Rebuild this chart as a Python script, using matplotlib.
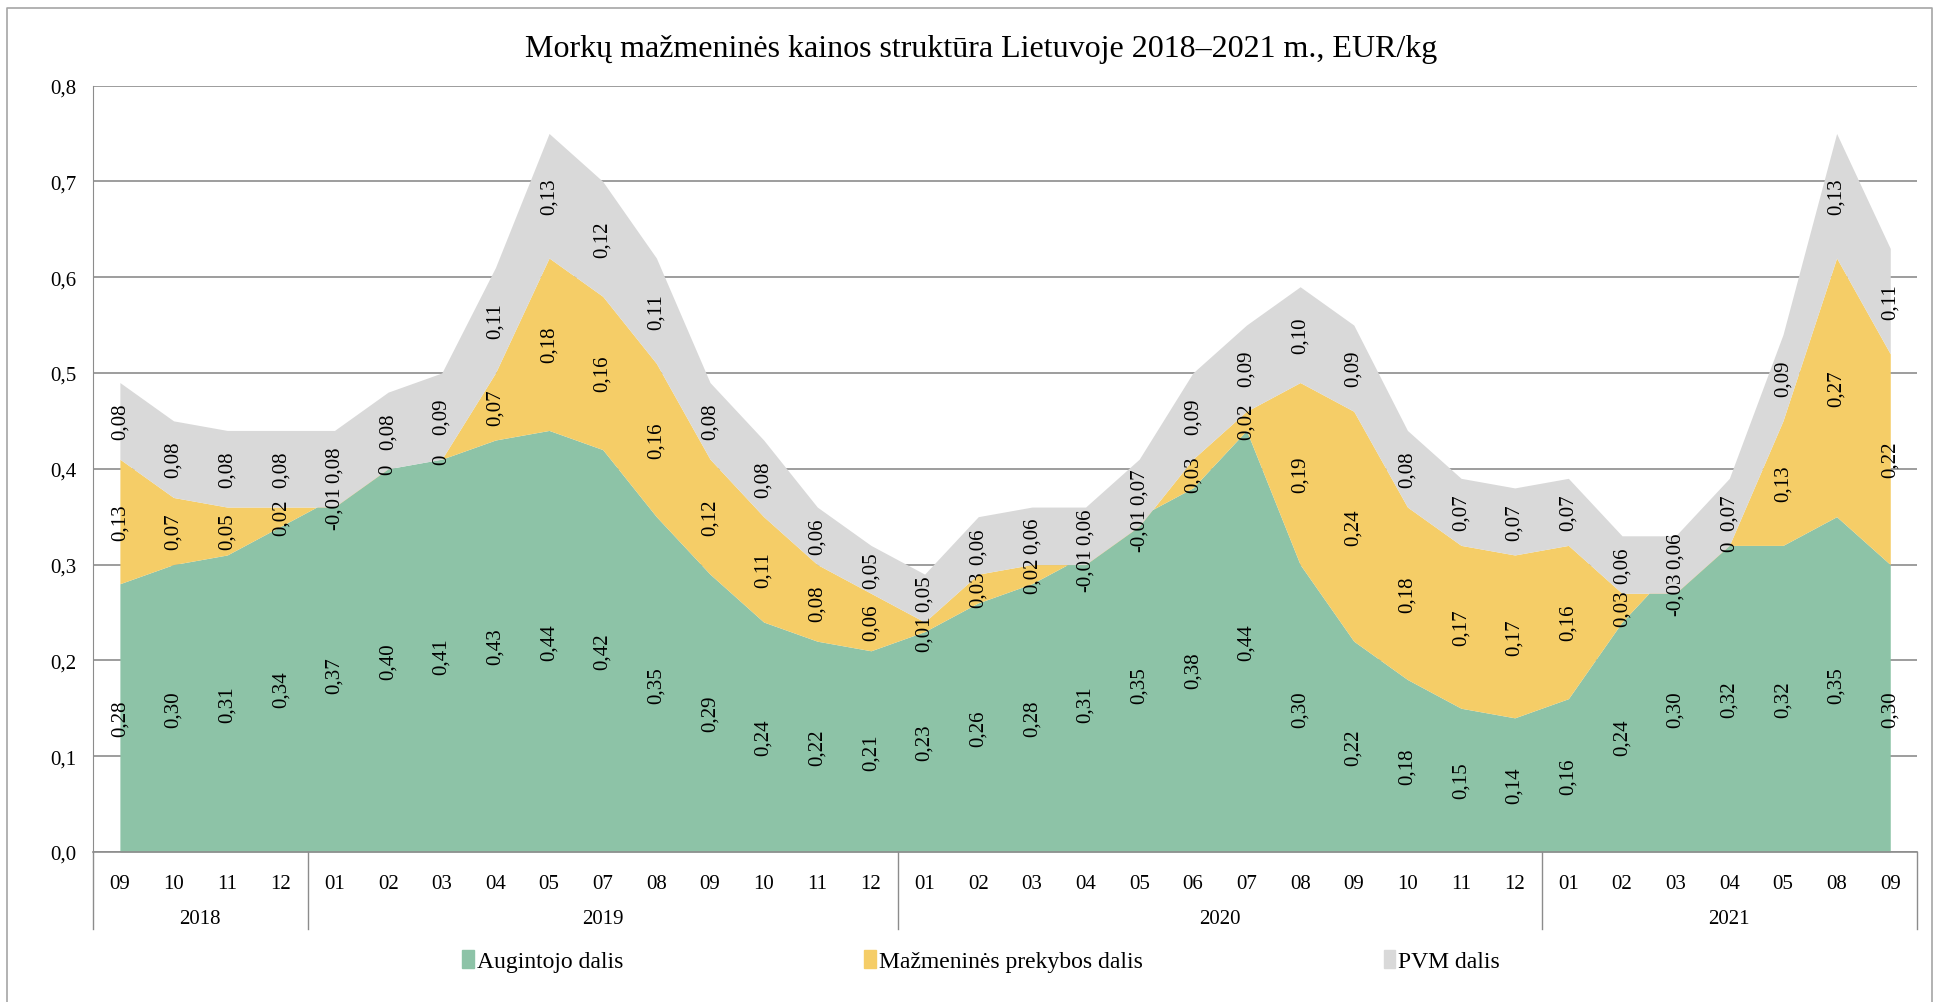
import matplotlib.pyplot as plt
import matplotlib.transforms as mtransforms
from matplotlib.lines import Line2D
from matplotlib.patches import Patch
import numpy as np

# data
months = ["09", "10", "11", "12",
          "01", "02", "03", "04", "05", "07", "08", "09", "10", "11", "12",
          "01", "02", "03", "04", "05", "06", "07", "08", "09", "10", "11", "12",
          "01", "02", "03", "04", "05", "08", "09"]
years = ["2018", "2019", "2020", "2021"]
year_counts = [4, 11, 12, 7]

augintojo = [0.28, 0.30, 0.31, 0.34,
             0.37, 0.40, 0.41, 0.43, 0.44, 0.42, 0.35, 0.29, 0.24, 0.22, 0.21,
             0.23, 0.26, 0.28, 0.31, 0.35, 0.38, 0.44, 0.30, 0.22, 0.18, 0.15, 0.14,
             0.16, 0.24, 0.30, 0.32, 0.32, 0.35, 0.30]
prekybos = [0.13, 0.07, 0.05, 0.02,
            -0.01, 0.00, 0.00, 0.07, 0.18, 0.16, 0.16, 0.12, 0.11, 0.08, 0.06,
            0.01, 0.03, 0.02, -0.01, -0.01, 0.03, 0.02, 0.19, 0.24, 0.18, 0.17, 0.17,
            0.16, 0.03, -0.03, 0.00, 0.13, 0.27, 0.22]
pvm = [0.08, 0.08, 0.08, 0.08,
       0.08, 0.08, 0.09, 0.11, 0.13, 0.12, 0.11, 0.08, 0.08, 0.06, 0.05,
       0.05, 0.06, 0.06, 0.06, 0.07, 0.09, 0.09, 0.10, 0.09, 0.08, 0.07, 0.07,
       0.07, 0.06, 0.06, 0.07, 0.09, 0.13, 0.11]

series = [("Augintojo dalis", augintojo, "#8DC3A7"),
          ("Mažmeninės prekybos dalis", prekybos, "#F5CD67"),
          ("PVM dalis", pvm, "#D9D9D9")]

plt.rcParams['font.family'] = ['Liberation Serif', 'DejaVu Serif']

LABEL_FS = 15


def fmt(v):
    if abs(v) < 1e-9:
        return "0"
    return f"{v:.2f}".replace(".", ",")


def half_len(s):
    # rough text length of a rotated label, in data units
    em = LABEL_FS * 100 / 72
    w = sum(0.25 if c == "," else 0.33 if c == "-" else 0.5 for c in s) * em
    return w / 2 * 0.8 / 766


fig = plt.figure(figsize=(19.39, 10.03), dpi=100)
ax = fig.add_axes([0.048, 0.1496, 0.9407, 0.7641])

x = np.arange(len(months))
bottom = np.zeros(len(months))
label_cols = [[] for _ in months]
for name, vals, col in series:
    vals = np.array(vals)
    top = bottom + vals
    ax.fill_between(x, bottom, top, color=col, linewidth=0, zorder=2)
    for i, (b, t, v) in enumerate(zip(bottom, top, vals)):
        label_cols[i].append([(b + t) / 2, fmt(v)])
    bottom = top

# push apart labels that would overlap in one column
for i, col in enumerate(label_cols):
    for _ in range(5):
        for k in range(len(col) - 1):
            lo, hi = col[k], col[k + 1]
            need = half_len(lo[1]) + half_len(hi[1]) + 0.004
            gap = hi[0] - lo[0]
            if gap < need:
                d = (need - gap) / 2
                lo[0] -= d
                hi[0] += d
    for c, s in col:
        ax.text(i, c, s, rotation=90, ha="center", va="center",
                fontsize=LABEL_FS, zorder=5)

ax.set_xlim(-0.5, len(months) - 0.5)
ax.set_ylim(0, 0.8)
ax.set_yticks(np.arange(0, 0.81, 0.1))
ax.set_yticklabels([f"{v:.1f}".replace(".", ",") for v in np.arange(0, 0.81, 0.1)])
ax.yaxis.grid(True, color="#8C8C8C", linewidth=1.2, zorder=0)
ax.set_axisbelow(True)
ax.set_xticks(x)
ax.set_xticklabels(months)
ax.tick_params(axis="x", length=0, pad=16, labelsize=15)
ax.tick_params(axis="y", length=0, pad=12, labelsize=15)
for s in ["top", "right"]:
    ax.spines[s].set_visible(False)
ax.spines["left"].set_color("#8C8C8C")
ax.spines["bottom"].set_color("#8C8C8C")
ax.spines["bottom"].set_linewidth(1.2)

# year group axis
trans = mtransforms.blended_transform_factory(ax.transData, ax.transAxes)
edges = np.concatenate([[0], np.cumsum(year_counts)]) - 0.5
for e in edges:
    ax.add_line(Line2D([e, e], [0, -0.1], transform=trans, color="#8C8C8C",
                       linewidth=1, clip_on=False))
for yr, a, b in zip(years, edges[:-1], edges[1:]):
    ax.text((a + b) / 2, -0.087, yr, transform=trans, ha="center", va="center",
            fontsize=15)

fig.suptitle("Morkų mažmeninės kainos struktūra Lietuvoje 2018–2021 m., EUR/kg",
             x=0.506, y=0.951, va="center", fontsize=23)

handles = [Patch(color=c, label=n) for n, _, c in series]
fig.legend(handles=handles, loc="center", bbox_to_anchor=(0.506, 0.041), ncol=3,
           frameon=False, fontsize=17, handlelength=0.5, handleheight=0.85,
           handletextpad=0.12, columnspacing=10.2)

# outer chart border
fig.add_artist(Line2D([7 / 1939, 7 / 1939, 1932 / 1939, 1932 / 1939],
                      [0, 1 - 9 / 1003, 1 - 9 / 1003, 0],
                      transform=fig.transFigure, color="#A6A6A6", linewidth=1.2))

fig.savefig("out.png", dpi=100)
